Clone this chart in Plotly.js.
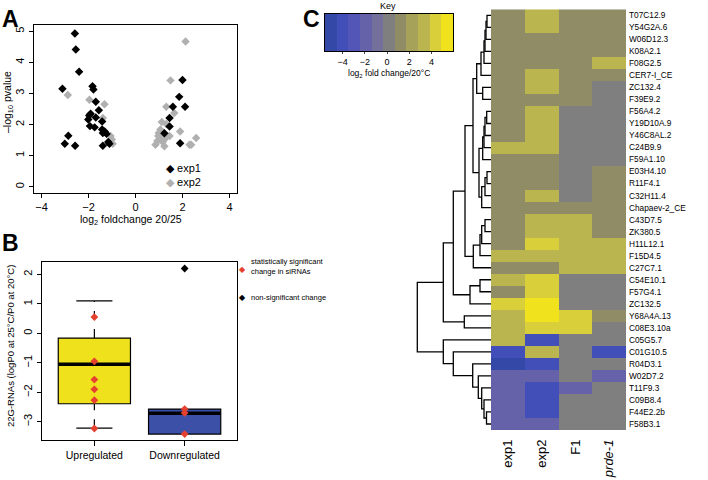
<!DOCTYPE html>
<html>
<head>
<meta charset="utf-8">
<script src="https://cdn.plot.ly/plotly-3.0.1.min.js"></script>
<style>
  html, body { margin: 0; padding: 0; background: #fff; }
  #chart { width: 708px; height: 480px; }
</style>
</head>
<body>
<div id="chart"></div>
<script>
// ---- panel A: volcano plot ----
const exp1X = [-2.58, -2.54, -2.40, -3.11, -1.83, -1.79, -1.69, -1.56, -1.91, -1.97, -2.01, -1.69, -1.94, -1.74, -1.42, -1.42, -1.39, -1.31, -1.23, -2.86, -3.01, -2.57, -1.16, -1.11, -1.39,
  2.00, 1.86, 1.59, 2.11, 1.45, 1.45, 1.23, 1.90];
const exp1Y = [4.93, 4.41, 3.70, 3.15, 3.23, 3.13, 2.73, 2.46, 2.35, 2.29, 2.16, 2.23, 1.95, 1.91, 2.10, 1.84, 1.73, 1.78, 1.70, 1.64, 1.38, 1.32, 1.44, 1.38, 1.32,
  3.43, 2.89, 2.57, 2.57, 2.21, 1.94, 1.72, 1.40];
const exp2X = [2.13, -2.88, -1.96, -1.32, -1.39, -1.06, -0.97, -1.01,
  1.49, 1.31, 1.65, 1.12, 1.31, 0.99, 1.06, 0.97, 1.02, 1.16, 0.85, 1.31, 1.45, 1.90, 2.58, 2.30, 2.37, 1.14, 1.23, 0.93, 1.23, 1.10, 1.20];
const exp2Y = [4.67, 2.95, 2.80, 2.65, 2.21, 1.63, 1.38, 1.52,
  3.42, 2.57, 2.37, 2.08, 2.02, 1.73, 1.84, 1.63, 1.52, 1.44, 1.35, 1.63, 1.63, 1.78, 1.57, 1.35, 1.35, 1.56, 1.52, 1.47, 1.30, 1.60, 1.68];

// ---- panel B: boxplot ----
const groups = ["Upregulated", "Downregulated"];
const boxLo = [-3.22, -3.42];
const boxQ1 = [-2.39, -3.42];
const boxMed = [-1.05, -2.71];
const boxQ3 = [-0.16, -2.57];
const boxHi = [1.10, -2.57];
const boxFill = ["#EFE11B", "#3D50A8"];
const sigGroup = [1, 1, 1, 1, 1, 1, 2, 2, 2];
const sigVal = [0.55, -0.95, -1.57, -1.90, -2.27, -3.23, -2.57, -2.70, -3.42];
const nsGroup = [2];
const nsVal = [2.2];

// ---- panel C: heatmap ----
const genes = ["T07C12.9", "Y54G2A.6", "W06D12.3", "K08A2.1", "F08G2.5", "CER7-I_CE", "ZC132.4", "F39E9.2",
  "F56A4.2", "Y19D10A.9", "Y46C8AL.2", "C24B9.9", "F59A1.10", "E03H4.10", "R11F4.1", "C32H11.4",
  "Chapaev-2_CE", "C43D7.5", "ZK380.5", "H11L12.1", "F15D4.5", "C27C7.1", "C54E10.1", "F57G4.1",
  "ZC132.5", "Y68A4A.13", "C08E3.10a", "C05G5.7", "C01G10.5", "R04D3.1", "W02D7.2", "T11F9.3",
  "C09B8.4", "F44E2.2b", "F58B3.1"];
const samples = ["exp1", "exp2", "F1", "<i>prde-1</i>"];
const foldChange = [
  [1, 3, 1, 1], [1, 3, 1, 1], [1, 1, 1, 1], [1, 1, 1, 1], [1, 1, 1, 3], [1, 3, 1, 1], [1, 3, 1, 0], [1, 1, 1, 0],
  [1, 3, 0, 0], [1, 3, 0, 0], [1, 3, 0, 0], [3, 3, 0, 0], [1, 1, 0, 0], [1, 1, 0, 1], [1, 1, 0, 1], [1, 3, 0, 1],
  [1, 1, 1, 1], [1, 3, 3, 1], [1, 3, 3, 1], [1, 4, 3, 3], [3, 3, 3, 3], [1, 1, 3, 3], [3, 4, 0, 0], [1, 4, 0, 0],
  [4, 5, 0, 0], [3, 5, 4, 1], [3, 4, 4, 0], [3, -4, 0, 0], [-4, 3, 0, -4], [-5, -4, 0, 0], [-2, -2, 0, -2], [-2, -4, -2, 0],
  [-2, -4, 0, 0], [-2, -4, 0, 0], [-2, -2, 0, 0]
];
// row dendrogram, hclust style: negative = leaf (row), positive = earlier merge
const mergeA = [-1, 1, 2, 3, 4, -7, 5, -9, 8, 9, 10, -14, 12, 13, 11, 7, -18, 17, 18, 19, 16, -23, 22, 21, -26, 24, -34, 27, 28, 29, 30, 31, 32, 26];
const mergeB = [-2, -3, -4, -5, -6, -8, 6, -10, -11, -12, -13, -15, -16, -17, 14, 15, -19, -20, -21, -22, 20, -24, -25, 23, -27, 25, -35, -33, -32, -31, -30, -29, -28, 33];
const mergeH = [4, 5, 6, 7, 10, 8.3, 14.3, 4.3, 6, 7, 8.3, 4, 6, 9.3, 12, 18, 6, 9.3, 11, 17.7, 26, 11, 21, 37.7, 26.7, 47.7, 4.5, 7, 9.3, 12.7, 18.3, 37.7, 47.7, 73.7];
const keyBreaks = [-5.6, -4.55, -3.5, -2.45, -1.4, -0.35, 0.7, 1.75, 2.8, 3.85, 4.9, 5.95];
const keyColors = ["#3348A7", "#424FB8", "#5356B6", "#6662A9", "#74709C", "#7F7F7F", "#8F8C66", "#A6A25A", "#BAB54E", "#D8CF3B", "#F0E21D"];

const W = 708, H = 480;
const px = v => v / W;
const py = v => 1 - v / H;
const FONT = "Liberation Sans, Arial, Helvetica, sans-serif";

const colorscale = [];
keyColors.forEach((c, i) => {
  colorscale.push([i / keyColors.length, c], [(i + 1) / keyColors.length, c]);
});
const zmin = keyBreaks[0], zmax = keyBreaks[keyBreaks.length - 1];

// dendrogram segments
const nodeY = [], nodeH = [];
function pos(ref) {
  return ref < 0 ? { y: -ref - 1, h: 0 } : { y: nodeY[ref - 1], h: nodeH[ref - 1] };
}
const dendX = [], dendY = [];
mergeA.forEach((a, i) => {
  const l = pos(a), r = pos(mergeB[i]), h = mergeH[i];
  dendX.push(l.h, h, h, r.h, null);
  dendY.push(l.y, l.y, r.y, r.y, null);
  nodeY.push((l.y + r.y) / 2);
  nodeH.push(h);
});

const traces = [
  { type: "scatter", mode: "markers", x: exp2X, y: exp2Y, xaxis: "x", yaxis: "y",
    marker: { symbol: "diamond", size: 6.5, color: "#B0B0B0" }, showlegend: false },
  { type: "scatter", mode: "markers", x: exp1X, y: exp1Y, xaxis: "x", yaxis: "y",
    marker: { symbol: "diamond", size: 6.5, color: "#000" }, showlegend: false },
  { type: "scatter", mode: "markers", x: nsGroup, y: nsVal, xaxis: "x2", yaxis: "y2",
    marker: { symbol: "diamond", size: 6, color: "#000" }, showlegend: false },
  { type: "scatter", mode: "markers", x: sigGroup, y: sigVal, xaxis: "x2", yaxis: "y2",
    marker: { symbol: "diamond", size: 6, color: "#E5412E" }, showlegend: false },
  { type: "heatmap", z: foldChange, x: [0, 1, 2, 3], y: genes.map((g, i) => i), xaxis: "x3", yaxis: "y3",
    colorscale: colorscale, zmin: zmin, zmax: zmax, showscale: false },
  { type: "scatter", mode: "lines", x: dendX, y: dendY, xaxis: "x4", yaxis: "y4",
    line: { color: "#000", width: 1.3 }, showlegend: false },
  { type: "heatmap", z: [keyBreaks.slice(1).map((b, i) => (b + keyBreaks[i]) / 2)], x: keyBreaks, y: [0],
    xaxis: "x5", yaxis: "y5", colorscale: colorscale, zmin: zmin, zmax: zmax, showscale: false }
];

// boxplot drawn from the stats arrays
const shapes = [];
groups.forEach((g, i) => {
  const c = i + 1;
  shapes.push({ type: "rect", xref: "x2", yref: "y2", layer: "below", x0: c - 0.4, x1: c + 0.4, y0: boxQ1[i], y1: boxQ3[i],
    fillcolor: boxFill[i], line: { color: "#000", width: 1.2 } });
  shapes.push({ type: "line", xref: "x2", yref: "y2", layer: "below", x0: c - 0.4, x1: c + 0.4, y0: boxMed[i], y1: boxMed[i],
    line: { color: "#000", width: 3.5 } });
  if (boxHi[i] > boxQ3[i]) {
    shapes.push({ type: "line", xref: "x2", yref: "y2", layer: "below", x0: c, x1: c, y0: boxQ3[i], y1: boxHi[i], line: { color: "#000", width: 1.2, dash: "dash" } });
    shapes.push({ type: "line", xref: "x2", yref: "y2", layer: "below", x0: c - 0.2, x1: c + 0.2, y0: boxHi[i], y1: boxHi[i], line: { color: "#000", width: 1.2 } });
  }
  if (boxLo[i] < boxQ1[i]) {
    shapes.push({ type: "line", xref: "x2", yref: "y2", layer: "below", x0: c, x1: c, y0: boxLo[i], y1: boxQ1[i], line: { color: "#000", width: 1.2, dash: "dash" } });
    shapes.push({ type: "line", xref: "x2", yref: "y2", layer: "below", x0: c - 0.2, x1: c + 0.2, y0: boxLo[i], y1: boxLo[i], line: { color: "#000", width: 1.2 } });
  }
});

const frame = {
  showline: true, mirror: true, linecolor: "#000", linewidth: 1.2,
  ticks: "outside", ticklen: 4, tickcolor: "#000", tickwidth: 1,
  showgrid: false, zeroline: false, fixedrange: true,
  tickfont: { family: FONT, size: 11, color: "#000" }
};
const hidden = { visible: false, showgrid: false, zeroline: false, fixedrange: true };

function note(text, x, y, opts) {
  return Object.assign({ text: text, x: px(x), y: py(y), xref: "paper", yref: "paper", showarrow: false,
    xanchor: "center", yanchor: "middle", font: { family: FONT, size: 11, color: "#000" } }, opts || {});
}
const letterFont = { family: FONT, size: 23, color: "#000" };

const annotations = [
  note("<b>A</b>", 0, 4, { xanchor: "left", yanchor: "top", font: letterFont }),
  note("<b>B</b>", 0, 228, { xanchor: "left", yanchor: "top", font: letterFont }),
  note("<b>C</b>", 322, 4, { xanchor: "right", yanchor: "top", font: letterFont }),
  note("–log<sub>10</sub> pvalue", 8, 102, { textangle: -90, font: { family: FONT, size: 10.5, color: "#000" } }),
  note("log<sub>2</sub> foldchange 20/25", 131, 220, { font: { family: FONT, size: 10.5, color: "#000" } }),
  note("<span style='color:#000'>◆</span> exp1", 164, 168, { xanchor: "left", font: { family: FONT, size: 11, color: "#000" } }),
  note("<span style='color:#B0B0B0'>◆</span> exp2", 164, 182, { xanchor: "left", font: { family: FONT, size: 11, color: "#000" } }),
  note("22G-RNAs (logP0 at 25°C/P0 at 20°C)", 10, 346, { textangle: -90, font: { family: FONT, size: 9.5, color: "#000" } }),
  note("<span style='color:#E5412E'>◆</span>", 243, 269, { font: { family: FONT, size: 8, color: "#000" } }),
  note("statistically significant<br>change in siRNAs", 249, 266, { xanchor: "left", align: "left", font: { family: FONT, size: 7.5, color: "#000" } }),
  note("◆", 243, 297, { font: { family: FONT, size: 8, color: "#000" } }),
  note("non-significant change", 249, 297, { xanchor: "left", font: { family: FONT, size: 7.5, color: "#000" } }),
  note("Key", 388, 6, { font: { family: FONT, size: 9, color: "#000" } }),
  note("log<sub>2</sub> fold change/20°C", 389, 73, { font: { family: FONT, size: 8.5, color: "#000" } })
];

const layout = {
  width: W, height: H,
  margin: { l: 0, r: 0, t: 0, b: 0 },
  paper_bgcolor: "#fff", plot_bgcolor: "rgba(0,0,0,0)",
  showlegend: false,
  font: { family: FONT, color: "#000" },
  xaxis: Object.assign({}, frame, { domain: [px(34), px(237)], range: [-4.32, 4.32], tickvals: [-4, -2, 0, 2, 4], anchor: "y" }),
  yaxis: Object.assign({}, frame, { domain: [py(193), py(25)], range: [-0.2, 5.2], tickvals: [0, 1, 2, 3, 4, 5], tickangle: -90, anchor: "x" }),
  xaxis2: Object.assign({}, frame, { domain: [px(42), px(237)], range: [0.42, 2.58], tickvals: [1, 2], ticktext: groups, ticklen: 5,
    tickfont: { family: FONT, size: 10.5, color: "#000" }, anchor: "y2" }),
  yaxis2: Object.assign({}, frame, { domain: [py(440), py(262)], range: [-3.62, 2.42], tickvals: [-3, -2, -1, 0, 1, 2], tickangle: -90, anchor: "x2" }),
  xaxis3: { domain: [px(491), px(626)], range: [-0.5, 3.5], tickvals: [0, 1, 2, 3], ticktext: samples, tickangle: -90,
    ticks: "", ticklabelstandoff: 6, showgrid: false, zeroline: false, showline: false, fixedrange: true,
    tickfont: { family: FONT, size: 13, color: "#000" }, anchor: "y3" },
  yaxis3: { domain: [py(430), py(9.3)], range: [34.5, -0.5], tickvals: genes.map((g, i) => i), ticktext: genes, side: "right",
    ticks: "", ticklabelstandoff: 2, showgrid: false, zeroline: false, showline: false, fixedrange: true,
    tickfont: { family: FONT, size: 8.3, color: "#000" }, anchor: "x3" },
  xaxis4: Object.assign({}, hidden, { domain: [px(415), px(491)], range: [76, 0], anchor: "y4" }),
  yaxis4: Object.assign({}, hidden, { domain: [py(430), py(9.3)], range: [34.5, -0.5], anchor: "x4" }),
  xaxis5: { domain: [px(325), px(453)], range: [zmin, zmax], tickvals: [-4, -2, 0, 2, 4], ticks: "outside", ticklen: 2,
    showline: true, mirror: true, linecolor: "#000", linewidth: 1, showgrid: false, zeroline: false, fixedrange: true,
    tickfont: { family: FONT, size: 9, color: "#000" }, anchor: "y5" },
  yaxis5: { domain: [py(51), py(14)], range: [-0.5, 0.5], showticklabels: false, ticks: "", showline: true, mirror: true,
    linecolor: "#000", linewidth: 1, showgrid: false, zeroline: false, fixedrange: true, anchor: "x5" },
  shapes: shapes,
  annotations: annotations
};

Plotly.newPlot("chart", traces, layout, { displayModeBar: false, staticPlot: true });
</script>
</body>
</html>
